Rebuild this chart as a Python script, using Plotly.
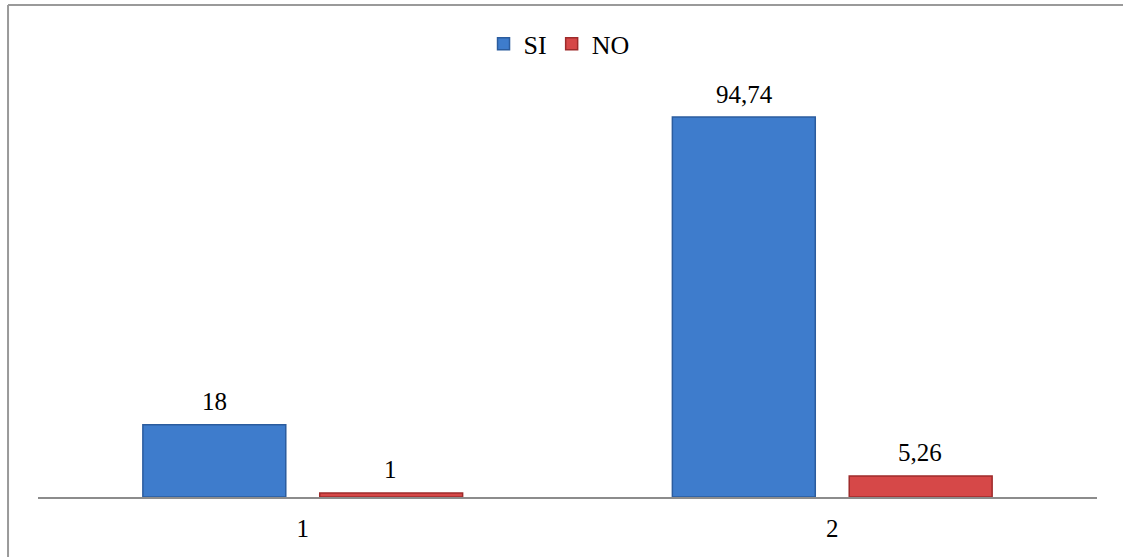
import plotly.graph_objects as go

# Categories and series values
categories = ["1", "2"]
si_values = [18, 94.74]
no_values = [1, 5.26]

SI_COLOR = "#3e7ccc"
SI_EDGE = "#2b5c9e"
NO_COLOR = "#d64848"
NO_EDGE = "#9e2b2b"
FONT = "Times New Roman, Times, serif"


def fmt(v):
    return f"{v:g}".replace(".", ",")


fig = go.Figure()
fig.add_trace(go.Bar(
    name="SI", x=categories, y=si_values,
    marker=dict(color=SI_COLOR, line=dict(color=SI_EDGE, width=1.5)),
))
fig.add_trace(go.Bar(
    name="NO", x=categories, y=no_values,
    marker=dict(color=NO_COLOR, line=dict(color=NO_EDGE, width=1.5)),
))

# Value labels above each bar
for i, cat in enumerate(categories):
    for off, vals in ((-1, si_values), (1, no_values)):
        fig.add_annotation(
            x=i + off * 0.1665, y=vals[i], xref="x", yref="y",
            text=fmt(vals[i]), showarrow=False,
            yanchor="middle", yshift=23,
            font=dict(family=FONT, size=25, color="#000000"),
        )

# Outer chart border (top and left edges)
border = dict(color="#9a9a9a", width=2)
fig.add_shape(type="line", xref="paper", yref="paper",
              x0=-0.0283, y0=1.227, x1=1.2, y1=1.227, line=border)
fig.add_shape(type="line", xref="paper", yref="paper",
              x0=-0.0283, y0=1.227, x1=-0.0283, y1=-0.3, line=border)

fig.update_layout(
    width=1123, height=557,
    margin=dict(l=38, r=26, t=96, b=60),
    paper_bgcolor="white", plot_bgcolor="white",
    barmode="group", bargap=0.332, bargroupgap=0.192,
    font=dict(family=FONT, size=25, color="#000000"),
    showlegend=True,
    legend=dict(
        orientation="h", x=0.492, xanchor="center", y=1.13, yanchor="middle",
        font=dict(family=FONT, size=26), itemwidth=30,
        bgcolor="rgba(0,0,0,0)", traceorder="normal",
    ),
    xaxis=dict(
        type="category", range=[-0.5, 1.5],
        showline=True, linecolor="#8c8c8c", linewidth=1.5,
        showgrid=False, ticks="", ticklabelstandoff=8,
        tickfont=dict(family=FONT, size=25),
    ),
    yaxis=dict(
        range=[0, 100], visible=False, showgrid=False, zeroline=False,
    ),
)

fig.write_html("out.html")
